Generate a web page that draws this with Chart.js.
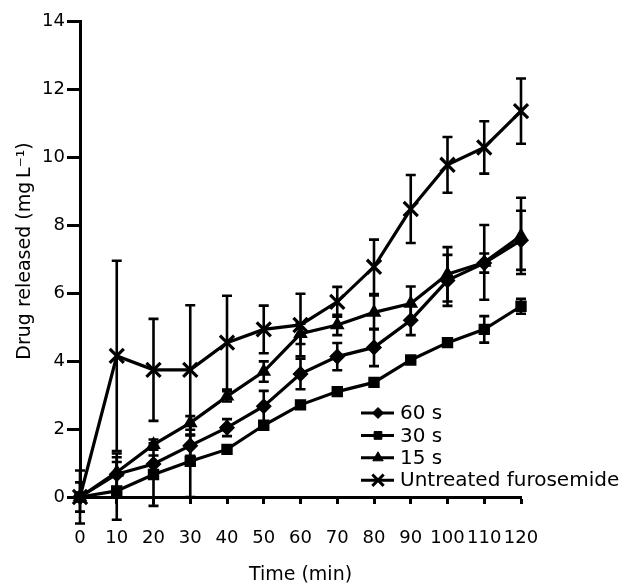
<!DOCTYPE html>
<html>
<head>
<meta charset="utf-8">
<script src="https://cdn.jsdelivr.net/npm/chart.js@4.4.0/dist/chart.umd.min.js"></script>
<style>
  html, body { margin: 0; padding: 0; background: #fff; }
  #wrap { width: 623px; height: 586px; }
</style>
</head>
<body>
<div id="wrap"><canvas id="grafico" width="623" height="586"></canvas></div>
<script>
// tempos (min)
const tempos = [0, 10, 20, 30, 40, 50, 60, 70, 80, 90, 100, 110, 120];

// médias (mg/L)
const s60 = [0, 0.67, 0.97, 1.51, 2.04, 2.67, 3.62, 4.13, 4.40, 5.20, 6.37, 6.88, 7.55];
const s30 = [0, 0.18, 0.66, 1.05, 1.40, 2.11, 2.71, 3.10, 3.37, 4.03, 4.54, 4.93, 5.61];
const s15 = [0, 0.73, 1.54, 2.18, 2.96, 3.69, 4.80, 5.06, 5.43, 5.69, 6.55, 6.90, 7.68];
const semTrat = [0, 4.15, 3.74, 3.74, 4.54, 4.93, 5.06, 5.74, 6.77, 8.47, 9.77, 10.28, 11.35];

// desvios (barras de erro)
const e60 = [0, 0.50, 0.25, 0.30, 0.25, 0.45, 0.45, 0.40, 0.55, 0.44, 0.75, 0.28, 0.87];
const e30 = [0, 0.85, 0.92, 1.05, 0.12, 0.12, 0.10, 0.10, 0.10, 0.10, 0.10, 0.39, 0.22];
const e15 = [0.43, 0.55, 0.15, 0.20, 0.15, 0.30, 0.30, 0.30, 0.50, 0.50, 0.80, 1.10, 1.12];
const eSemTrat = [0.78, 2.80, 1.50, 1.90, 1.38, 0.70, 0.92, 0.44, 0.80, 1.00, 0.82, 0.77, 0.96];

const rotulos = ['60 s', '30 s', '15 s', 'Untreated furosemide'];
const yTicks = [0, 2, 4, 6, 8, 10, 12, 14];
const tituloY = 'Drug released (mg\u2009L\u207b\u00b9)';

const fonte = 'DejaVu Sans';

function pontos(valores) {
  return tempos.map((t, i) => ({ x: t, y: valores[i] }));
}

const series = [
  { label: rotulos[0], data: s60, erro: e60, estilo: 'rectRot', raio: 7, raioLeg: 5.5 },
  { label: rotulos[1], data: s30, erro: e30, estilo: 'rect', raio: 7, raioLeg: 5.5 },
  { label: rotulos[2], data: s15, erro: e15, estilo: 'triangle', raio: 7, raioLeg: 6 },
  { label: rotulos[3], data: semTrat, erro: eSemTrat, estilo: 'crossRot', raio: 10, raioLeg: 8 },
];

// barras de erro desenhadas antes das linhas
const barrasErro = {
  id: 'barrasErro',
  beforeDatasetsDraw(chart) {
    const ctx = chart.ctx;
    const xs = chart.scales.x, ys = chart.scales.y;
    ctx.save();
    ctx.strokeStyle = '#000';
    ctx.lineWidth = 2.6;
    chart.data.datasets.forEach(ds => {
      ds.erro.forEach((e, i) => {
        if (!e) return;
        const v = ds.data[i].y;
        const px = xs.getPixelForValue(ds.data[i].x);
        const top = ys.getPixelForValue(v + e);
        const bot = ys.getPixelForValue(v - e);
        ctx.beginPath();
        ctx.moveTo(px, top); ctx.lineTo(px, bot);
        ctx.moveTo(px - 5, top); ctx.lineTo(px + 5, top);
        ctx.moveTo(px - 5, bot); ctx.lineTo(px + 5, bot);
        ctx.stroke();
      });
    });
    ctx.restore();
  }
};

// legenda dentro da área do gráfico + título do eixo y
const legendaInterna = {
  id: 'legendaInterna',
  afterDraw(chart) {
    const ctx = chart.ctx;
    const a = chart.chartArea;
    const x0 = a.left + 281, x1 = a.left + 314, xm = a.left + 298;
    ctx.save();
    chart.data.datasets.forEach((ds, i) => {
      const y = a.top + 392 + i * 22.4;
      ctx.strokeStyle = '#000';
      ctx.lineWidth = 3;
      ctx.beginPath(); ctx.moveTo(x0, y); ctx.lineTo(x1, y); ctx.stroke();
      ctx.fillStyle = '#000';
      ctx.lineWidth = ds.estilo === 'crossRot' ? 3 : 1;
      Chart.helpers.drawPoint(ctx, { pointStyle: ds.estilo, radius: ds.raioLeg, rotation: 0, borderWidth: ctx.lineWidth }, xm, y);
      ctx.fillStyle = '#000';
      ctx.font = `20px "${fonte}"`;
      ctx.textBaseline = 'middle';
      ctx.textAlign = 'left';
      ctx.fillText(ds.label, x1 + 6, y + 1);
    });

    ctx.translate(25, a.top + 230);
    ctx.rotate(-Math.PI / 2);
    ctx.font = `19px "${fonte}"`;
    ctx.textAlign = 'center';
    ctx.textBaseline = 'middle';
    ctx.fillText(tituloY, 0, 0);
    ctx.restore();
  }
};

const ctx = document.getElementById('grafico').getContext('2d');
new Chart(ctx, {
  type: 'line',
  data: {
    datasets: series.map(s => ({
      label: s.label,
      data: pontos(s.data),
      erro: s.erro,
      estilo: s.estilo,
      raioLeg: s.raioLeg,
      borderColor: '#000',
      backgroundColor: '#000',
      borderWidth: 3.2,
      tension: 0,
      fill: false,
      clip: false,
      pointStyle: s.estilo,
      pointRadius: s.raio,
      pointBorderWidth: s.estilo === 'crossRot' ? 3.2 : 1.5,
      pointBackgroundColor: '#000',
      pointBorderColor: '#000',
    })),
  },
  options: {
    responsive: false,
    animation: false,
    devicePixelRatio: 1,
    layout: { padding: { left: 0, top: 21, right: 102, bottom: 0 } },
    plugins: {
      legend: { display: false },
      tooltip: { enabled: false },
    },
    scales: {
      x: {
        type: 'linear',
        min: 0, max: 120,
        afterFit: s => { s.height = 89; },
        afterBuildTicks: s => { s.ticks = tempos.map(v => ({ value: v })); },
        ticks: { autoSkip: false, maxRotation: 0, padding: 24, color: '#000', font: { family: fonte, size: 18 } },
        grid: { drawOnChartArea: false, drawTicks: true, tickLength: 7, tickWidth: 3, tickColor: '#000' },
        border: { display: true, color: '#000', width: 3 },
        title: { display: true, text: 'Time (min)', color: '#000', font: { family: fonte, size: 19 }, padding: { top: 0, bottom: 0 } },
      },
      y: {
        type: 'linear',
        min: 0, max: 14,
        afterFit: s => { s.width = 80; },
        afterBuildTicks: s => { s.ticks = yTicks.map(v => ({ value: v })); },
        ticks: { padding: 2, color: '#000', font: { family: fonte, size: 18 } },
        grid: { drawOnChartArea: false, drawTicks: true, tickLength: 13, tickWidth: 3, tickColor: '#000' },
        border: { display: true, color: '#000', width: 3 },
        title: { display: false },
      },
    },
  },
  plugins: [barrasErro, legendaInterna],
});
</script>
</body>
</html>
